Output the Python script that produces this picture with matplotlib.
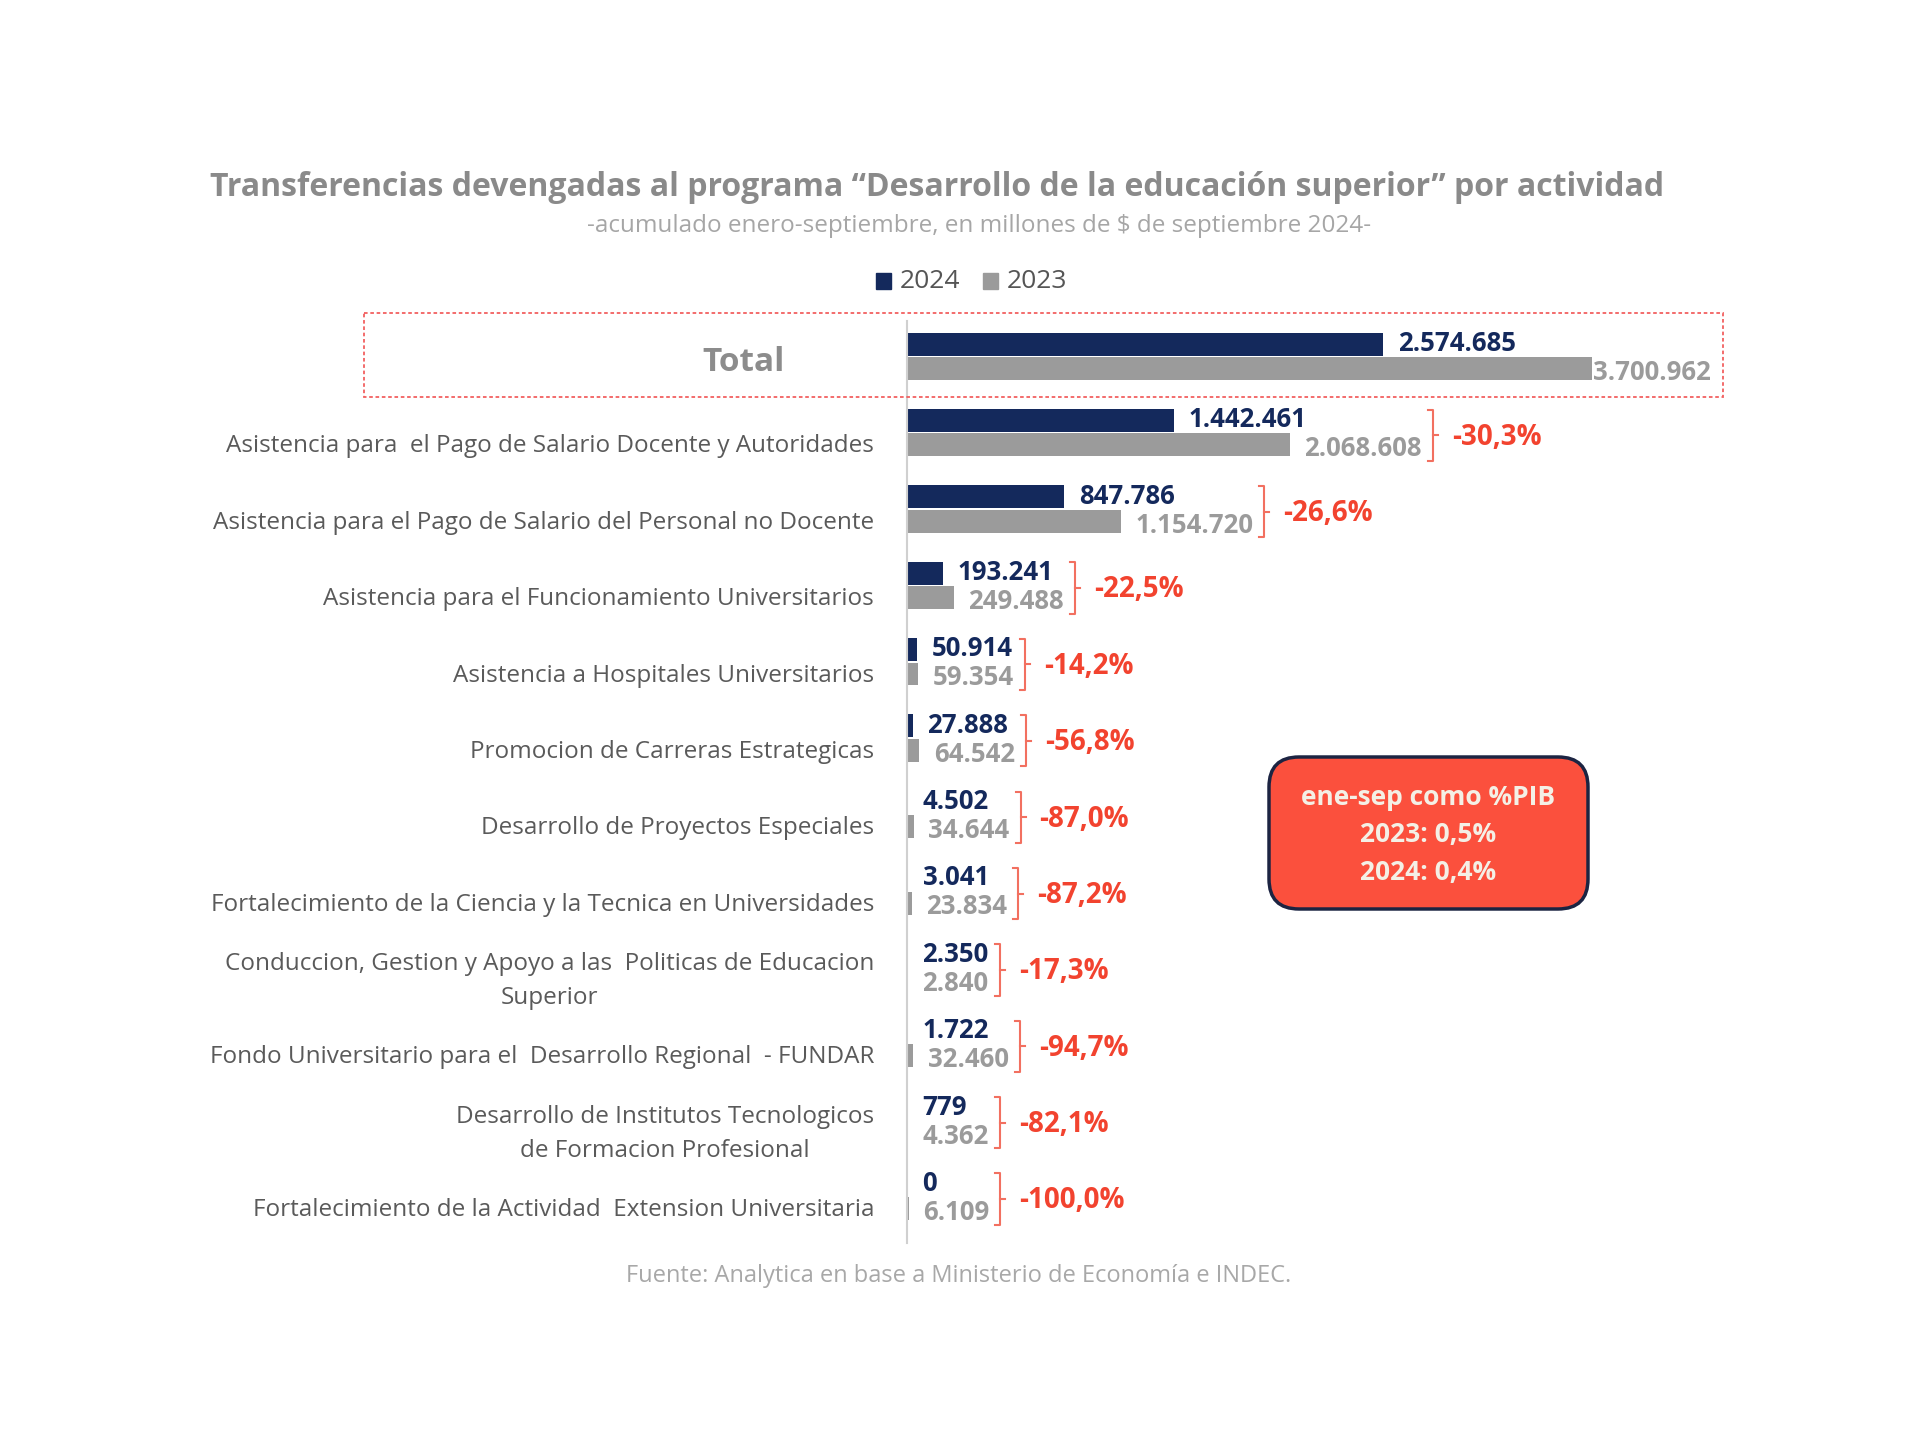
import matplotlib.pyplot as plt
from matplotlib.patches import Rectangle, FancyBboxPatch

plt.rcParams['font.family'] = ['Open Sans', 'DejaVu Sans']

categories = [
    "Total",
    "Asistencia para  el Pago de Salario Docente y Autoridades",
    "Asistencia para el Pago de Salario del Personal no Docente",
    "Asistencia para el Funcionamiento Universitarios",
    "Asistencia a Hospitales Universitarios",
    "Promocion de Carreras Estrategicas",
    "Desarrollo de Proyectos Especiales",
    "Fortalecimiento de la Ciencia y la Tecnica en Universidades",
    "Conduccion, Gestion y Apoyo a las  Politicas de Educacion\nSuperior",
    "Fondo Universitario para el  Desarrollo Regional  - FUNDAR",
    "Desarrollo de Institutos Tecnologicos\nde Formacion Profesional",
    "Fortalecimiento de la Actividad  Extension Universitaria",
]
v2024 = [2574685, 1442461, 847786, 193241, 50914, 27888, 4502, 3041, 2350, 1722, 779, 0]
v2023 = [3700962, 2068608, 1154720, 249488, 59354, 64542, 34644, 23834, 2840, 32460, 4362, 6109]
var_pct = [None, "-30,3%", "-26,6%", "-22,5%", "-14,2%", "-56,8%", "-87,0%",
           "-87,2%", "-17,3%", "-94,7%", "-82,1%", "-100,0%"]
pib_lines = ["ene-sep como %PIB", "2023: 0,5%", "2024: 0,4%"]

NAVY = '#14295c'
GREY = '#9b9b9b'
RED = '#f2432f'
BRACKET = '#f27060'
LABEL = '#5a5a5a'

W, H = 1920, 1450
fig = plt.figure(figsize=(19.2, 14.5), dpi=100)

# main axes, placed in pixel terms
x0, x1, y0, y1 = 907.4, 1750, 321, 1243
ax = fig.add_axes([x0 / W, 1 - y1 / H, (x1 - x0) / W, (y1 - y0) / H])
rows = list(range(len(categories)))
ax.barh([i - 0.16 for i in rows], v2024, height=0.30, color=NAVY)
ax.barh([i + 0.16 for i in rows], v2023, height=0.30, color=GREY)
ax.set_xlim(0, 4558000)
ax.set_ylim(11.61, -0.462)
ax.set_xticks([])
ax.set_yticks([])
for s in ['top', 'right', 'bottom']:
    ax.spines[s].set_visible(False)
ax.spines['left'].set_color('#d0d0d0')
ax.spines['left'].set_linewidth(1.5)
ax.patch.set_visible(False)


def fmt(v):
    return f"{v:,}".replace(',', '.')


lab24, lab23 = [], []
for i in rows:
    t24 = ax.annotate(fmt(v2024[i]), (v2024[i], i - 0.17), xytext=(10.5, 0),
                      textcoords='offset points', va='center', ha='left',
                      color=NAVY, fontsize=18.5, fontweight='bold')
    pad = 1 if i == 0 else 10.5
    t23 = ax.annotate(fmt(v2023[i]), (v2023[i], i + 0.21), xytext=(pad, 0),
                      textcoords='offset points', va='center', ha='left',
                      color=GREY, fontsize=18.5, fontweight='bold')
    lab24.append(t24)
    lab23.append(t23)

ytr = ax.get_yaxis_transform()
ax.text(-0.195, 0.08, categories[0], transform=ytr, ha='center', va='center',
        fontsize=24, fontweight='bold', color='#8c8c8c')
for i in rows[1:]:
    ax.text(-0.0396, i + 0.18, categories[i], transform=ytr, ha='right',
            va='center', multialignment='center', linespacing=1.55,
            fontsize=17.5, color=LABEL)

# brackets and percentage change, positioned after the value labels
fig.canvas.draw()
r = fig.canvas.get_renderer()
inv = ax.transData.inverted()


def px2x(px):
    return inv.transform((px, 0))[0]


for i in rows[1:]:
    right = max(lab24[i].get_window_extent(r).x1, lab23[i].get_window_extent(r).x1) + 11
    xb, xl, xt = px2x(right), px2x(right - 5), px2x(right + 5)
    ax.plot([xl, xb, xb, xl], [i - 0.30, i - 0.30, i + 0.37, i + 0.37],
            color=BRACKET, lw=1.5, clip_on=False)
    ax.plot([xb, xt], [i + 0.035, i + 0.035], color=BRACKET, lw=1.5, clip_on=False)
    ax.text(px2x(right + 19), i + 0.06, var_pct[i], ha='left', va='center',
            fontsize=20, fontweight='bold', color=RED)

# overlay in pixel units for titles, legend and boxes
ov = fig.add_axes([0, 0, 1, 1])
ov.set_xlim(0, W)
ov.set_ylim(H, 0)
ov.axis('off')

ov.text(937, 187, "Transferencias devengadas al programa \u201cDesarrollo de la educaci\u00f3n superior\u201d por actividad",
        ha='center', va='center', fontsize=23, fontweight='bold', color='#8a8a8a')
ov.text(979, 226, "-acumulado enero-septiembre, en millones de $ de septiembre 2024-",
        ha='center', va='center', fontsize=17.5, color='#a6a6a6')

ov.add_patch(Rectangle((876, 273), 15, 16, color=NAVY))
ov.text(900, 281, "2024", ha='left', va='center', fontsize=19, color='#555555')
ov.add_patch(Rectangle((983, 273), 15, 16, color=GREY))
ov.text(1007, 281, "2023", ha='left', va='center', fontsize=19, color='#555555')

ov.add_patch(Rectangle((364, 313), 1359, 84, fill=False, ec='#f26060', lw=1.3,
                       ls=(0, (2, 1.5))))

ov.add_patch(FancyBboxPatch((1269, 757), 319, 152, boxstyle='round,pad=0,rounding_size=30',
                            fc='#fb503d', ec='#1c2442', lw=2.5))
for k, line in enumerate(pib_lines):
    ov.text(1428, 797 + 37.5 * k, line, ha='center', va='center', fontsize=19,
            fontweight='bold', color='#f4f0e6')

ov.text(959, 1276, "Fuente: Analytica en base a Ministerio de Econom\u00eda e INDEC.",
        ha='center', va='center', fontsize=17, color='#a8a8a8')

fig.savefig('out.png', dpi=100, facecolor='white')
